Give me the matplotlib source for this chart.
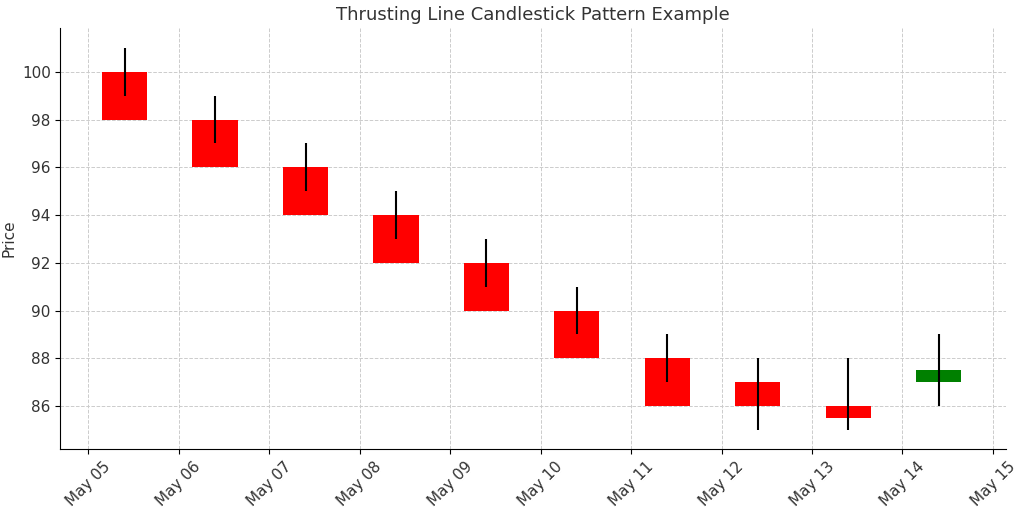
import numpy as np
import pandas as pd
import matplotlib.pyplot as plt
import matplotlib.dates as mdates

# ── data ──────────────────────────────────────────────────────────────────────
dates  = pd.date_range("2023-05-05", periods=10, freq="D")
opens  = [100, 98, 96, 94, 92, 90, 88, 87, 86, 87.0]
closes = [98, 96, 94, 92, 90, 88, 86, 86, 85.5, 87.5]
highs  = [101, 99, 97, 95, 93, 91, 89, 88, 88, 89]
lows   = [99, 97, 95, 93, 91, 89, 87, 85, 85, 86]

fig, ax = plt.subplots(figsize=(10.24, 5.09), dpi=100)
fig.subplots_adjust(left=0.059, right=0.982, top=0.945, bottom=0.118)

x = mdates.date2num(dates) + 0.4
for xi, o, c, h, l in zip(x, opens, closes, highs, lows):
    color = "green" if c >= o else "red"
    ax.bar(xi, abs(c - o), bottom=min(o, c), width=0.5, color=color, zorder=2)
    ax.vlines(xi, l, h, color="black", lw=1.5, zorder=3)

ax.set_xlim(mdates.date2num(dates[0]) - 0.31, mdates.date2num(dates[-1]) + 1.14)
ax.set_ylim(84.2, 101.84)
ax.xaxis.set_major_locator(mdates.DayLocator())
ax.xaxis.set_major_formatter(mdates.DateFormatter("%b %d"))
plt.setp(ax.get_xticklabels(), rotation=45, fontsize=11, color="#333333")
plt.setp(ax.get_yticklabels(), fontsize=11, color="#333333")
ax.grid(True, ls="--", color="#cccccc", lw=0.7, zorder=0)
ax.set_axisbelow(True)
ax.spines["top"].set_visible(False)
ax.spines["right"].set_visible(False)
ax.set_ylabel("Price", fontsize=11, color="#333333")
ax.set_title("Thrusting Line Candlestick Pattern Example", fontsize=13, color="#333333")

fig.savefig("out.png", dpi=100)
